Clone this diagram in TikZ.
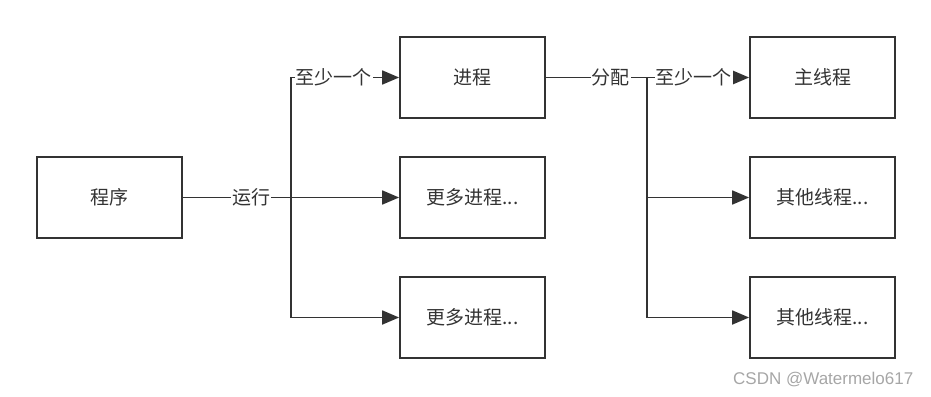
\documentclass[tikz,border=0pt]{standalone}
\usepackage{fontspec}
\setmainfont{Noto Sans CJK SC}
\newfontfamily\wmfont{Liberation Sans}
\usetikzlibrary{arrows.meta,positioning}
\definecolor{linegray}{HTML}{333333}

\begin{document}
\begin{tikzpicture}[x=1pt,y=-1pt,
 every node/.style={font=\fontsize{19}{21}\selectfont,text=linegray},
 box/.style={draw=linegray,line width=1.8pt,minimum width=145pt,minimum height=81pt,inner sep=0pt},
 link/.style={draw=linegray,line width=1.8pt},
 arr/.style={link,-{Triangle[length=17pt,width=14pt]}},
 lbl/.style={fill=white,inner sep=1pt}]
\useasboundingbox (0,0) rectangle (931,396);
% boxes
\node[box] (prog) at (109.5,197.5) {程序};
\node[box] (proc) at (472.5,77.5) {进程};
\node[box] (more1) at (472.5,197.5) {更多进程...};
\node[box] (more2) at (472.5,317.5) {更多进程...};
\node[box] (main) at (822.5,77.5) {主线程};
\node[box] (other1) at (822.5,197.5) {其他线程...};
\node[box] (other2) at (822.5,317.5) {其他线程...};
\coordinate (j1) at (291,197.5);
\coordinate (j2) at (647,77.5);
% program -> processes
\draw[link] (prog.east) -- node[lbl,pos=0.63] {运行} (j1);
\draw[arr] (j1) |- node[lbl,pos=0.5,anchor=west,xshift=3pt] {至少一个} (proc.west);
\draw[arr] (j1) -- (more1.west);
\draw[arr] (j1) |- (more2.west);
% process -> threads
\draw[link] (proc.east) -- node[lbl,pos=0.64] {分配} (j2);
\draw[arr] (j2) -- node[lbl,pos=0,anchor=west,xshift=7pt] {至少一个} (main.west);
\draw[arr] (j2) |- (other1.west);
\draw[arr] (j2) |- (other2.west);
\node[font=\wmfont\fontsize{17}{20}\selectfont,text=gray!70,anchor=west,inner sep=0pt] (wm) at (733,380) {CSDN @Watermelo617};
\end{tikzpicture}
\end{document}
